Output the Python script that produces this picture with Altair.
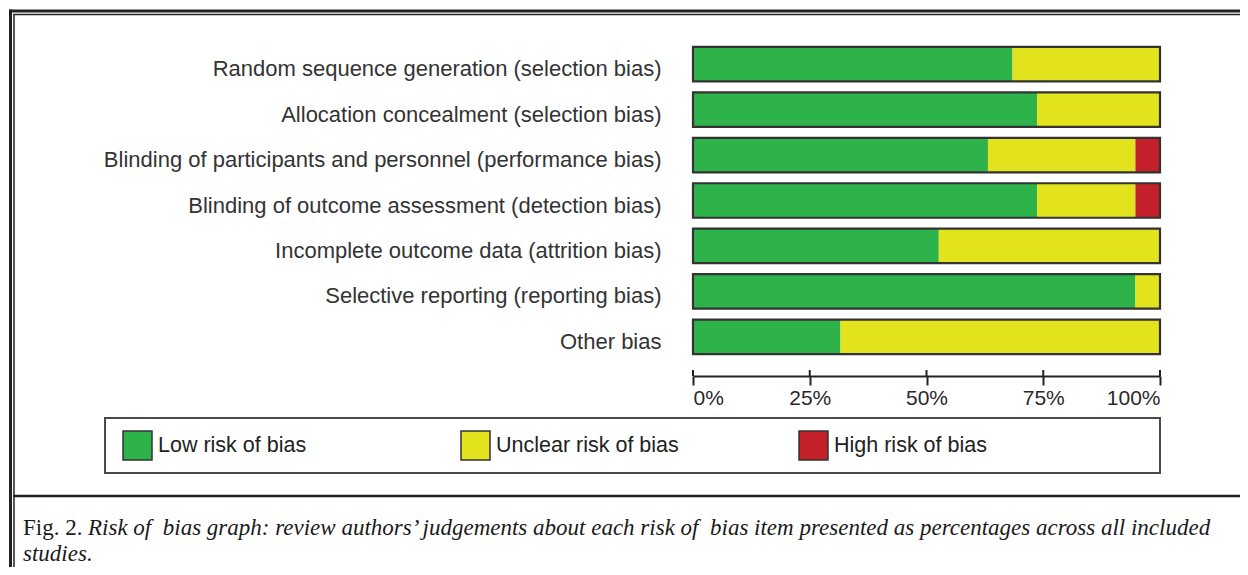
import altair as alt
import pandas as pd

# ---- data (counts out of 19 studies, expressed as percentages) ----
domains = [
    "Random sequence generation (selection bias)",
    "Allocation concealment (selection bias)",
    "Blinding of participants and personnel (performance bias)",
    "Blinding of outcome assessment (detection bias)",
    "Incomplete outcome data (attrition bias)",
    "Selective reporting (reporting bias)",
    "Other bias",
]
n_studies = 19
low_counts = [13, 14, 12, 14, 10, 18, 6]
unclear_counts = [6, 5, 6, 4, 9, 1, 13]
high_counts = [0, 0, 1, 1, 0, 0, 0]

categories = ["Low risk of bias", "Unclear risk of bias", "High risk of bias"]
cat_colors = ["#2db34a", "#e2e31c", "#c4202a"]
tick_values = [0, 25, 50, 75, 100]
caption_fig = "Fig. 2."
caption_line1 = ("Risk of\u00a0 bias graph: review authors\u2019 judgements about each risk of\u00a0 bias "
                 "item presented as percentages across all included")
caption_line2 = "studies."

rows = []
for d, lo, un, hi in zip(domains, low_counts, unclear_counts, high_counts):
    for k, (c, v) in enumerate(zip(categories, [lo, un, hi])):
        rows.append({"domain": d, "cat": c, "order": k, "pct": 100.0 * v / n_studies})
df = pd.DataFrame(rows)

SANS = "Liberation Sans"
SERIF = "Liberation Serif"
W, H = 467, 319
PAD = {"left": 685, "top": 33, "right": 80, "bottom": 207}
RIGHT = W + PAD["right"]

xscale = alt.Scale(domain=[0, 100], nice=False, zero=True)
yscale = alt.Scale(domain=domains, paddingInner=0.24, paddingOuter=0.13)

bars = alt.Chart(df).mark_bar(strokeWidth=0).encode(
    x=alt.X("pct:Q", stack="zero", scale=xscale,
            axis=alt.Axis(values=tick_values, labelExpr="datum.value + '%'", title=None,
                          grid=False, offset=16, domainColor="#222", domainWidth=2,
                          tickColor="#222", tickWidth=2, tickSize=9, labelFlush=True,
                          labelFont=SANS, labelFontSize=21, labelColor="#2a2a2a",
                          labelPadding=2)),
    y=alt.Y("domain:N", scale=yscale, sort=domains,
            axis=alt.Axis(title=None, domain=False, ticks=False, labelFont=SANS,
                          labelFontSize=22, labelColor="#333", labelPadding=32,
                          labelLimit=0, labelOffset=5)),
    color=alt.Color("cat:N", scale=alt.Scale(domain=categories, range=cat_colors),
                    legend=alt.Legend(title=None, orient="none", legendX=-571, legendY=389,
                                      direction="horizontal", columns=3, gridAlign="all",
                                      columnPadding=117, symbolType="square", symbolSize=841,
                                      symbolStrokeColor="#333", symbolStrokeWidth=1.5,
                                      symbolOpacity=1, labelFont=SANS, labelFontSize=21.5,
                                      labelColor="#222", labelOffset=5, labelLimit=0,
                                      padding=0)),
    order=alt.Order("order:Q"),
)

outline = alt.Chart(df).mark_bar(fillOpacity=0, stroke="#333", strokeWidth=2.2).encode(
    x=alt.X("sum(pct):Q", scale=xscale),
    y=alt.Y("domain:N", scale=yscale, sort=domains),
)

tick_df = pd.DataFrame({"t": tick_values})
ticks_up = alt.Chart(tick_df).mark_rule(color="#222", strokeWidth=2).encode(
    x=alt.X("t:Q", scale=xscale),
    y=alt.value(329), y2=alt.value(335),
)

one = alt.Data(values=[{"a": 1}])

def rule(x1, x2, y1, y2, w, color="#222"):
    return alt.Chart(one).mark_rule(color=color, strokeWidth=w).encode(
        x=alt.value(x1), x2=alt.value(x2), y=alt.value(y1), y2=alt.value(y2))

frame = [
    rule(-682.5, -682.5, -31.5, 540, 3),
    rule(-679, -679, -26.5, 540, 1.5),
    rule(-684, RIGHT, -30, -30, 3),
    rule(-679.75, RIGHT, -26.5, -26.5, 1.5),
    rule(-679.75, RIGHT, 455, 455, 2.5),
]

legend_box = alt.Chart(one).mark_rect(fill="white", stroke="#4a4a4a", strokeWidth=2).encode(
    x=alt.value(-588), x2=alt.value(467), y=alt.value(377), y2=alt.value(432))

def text(s, x, y, style="normal"):
    return alt.Chart(one).mark_text(align="left", baseline="alphabetic", font=SERIF,
                                    fontSize=23, fontStyle=style, color="#1a1a1a").encode(
        x=alt.value(x), y=alt.value(y), text=alt.value(s))

captions = [
    text(caption_fig, -670, 494),
    text(caption_line1, -605, 494, "italic"),
    text(caption_line2, -670, 520, "italic"),
]

chart = alt.layer(legend_box, bars, outline, ticks_up, *frame, *captions).properties(
    width=W, height=H, padding=PAD, autosize=alt.AutoSizeParams(type="none"),
    background="white",
).configure_view(stroke=None)

chart.save("out.html", embed_options={"renderer": "svg", "actions": False})
